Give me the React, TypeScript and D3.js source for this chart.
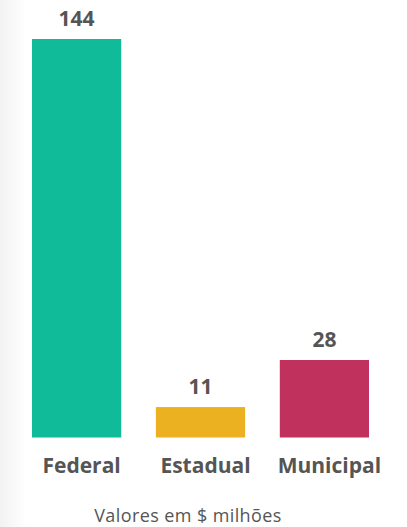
import { useEffect, useRef } from "react";
import * as d3 from "d3";

const categories = ["Federal", "Estadual", "Municipal"];
const values = [144, 11, 28];
const colors = ["#10bb9a", "#ebb121", "#c1315d"];
const footnote = "Valores em $ milhões";

export default function App() {
  const ref = useRef<SVGSVGElement>(null);

  useEffect(() => {
    if (!ref.current) return;
    const width = 407;
    const height = 527;
    const svg = d3.select(ref.current);
    svg.selectAll("*").remove();

    // faint shadow on the left edge
    const defs = svg.append("defs");
    const grad = defs.append("linearGradient").attr("id", "edge").attr("x1", "0").attr("x2", "1");
    grad.append("stop").attr("offset", "0").attr("stop-color", "#f2f2f2");
    grad.append("stop").attr("offset", "1").attr("stop-color", "#ffffff");
    svg.append("rect").attr("width", width).attr("height", height).attr("fill", "#fff");
    svg.append("rect").attr("width", 26).attr("height", height).attr("fill", "url(#edge)");

    const x = d3.scaleBand()
      .domain(categories)
      .range([32, 369])
      .paddingInner(0.28)
      .paddingOuter(0);

    const y = d3.scaleLinear()
      .domain([0, 144])
      .range([437.5, 39]);

    const data = categories.map((c, i) => ({ c, v: values[i], col: colors[i] }));

    svg.selectAll("rect.bar")
      .data(data)
      .enter()
      .append("rect")
      .attr("class", "bar")
      .attr("x", d => x(d.c) || 0)
      .attr("y", d => y(d.v))
      .attr("width", x.bandwidth())
      .attr("height", d => y(0) - y(d.v))
      .attr("fill", d => d.col);

    svg.selectAll("text.val")
      .data(data)
      .enter()
      .append("text")
      .attr("class", "val")
      .attr("x", d => (x(d.c) || 0) + x.bandwidth() / 2)
      .attr("y", d => y(d.v) - 13)
      .attr("text-anchor", "middle")
      .attr("font-family", "'Open Sans', sans-serif")
      .attr("font-weight", 700)
      .attr("font-size", "21px")
      .attr("fill", "#555")
      .text(d => d.v);

    svg.selectAll("text.cat")
      .data(data)
      .enter()
      .append("text")
      .attr("class", "cat")
      .attr("x", d => (x(d.c) || 0) + x.bandwidth() / 2 + 5)
      .attr("y", 473)
      .attr("text-anchor", "middle")
      .attr("font-family", "'Open Sans', sans-serif")
      .attr("font-weight", 700)
      .attr("font-size", "21px")
      .attr("fill", "#555")
      .text(d => d.c);

    svg.append("text")
      .attr("x", 188)
      .attr("y", 522)
      .attr("text-anchor", "middle")
      .attr("font-family", "'Open Sans', sans-serif")
      .attr("font-size", "18px")
      .attr("letter-spacing", "0.4px")
      .attr("fill", "#555")
      .text(footnote);
  }, []);

  return (
    <svg
      ref={ref}
      width={407}
      height={527}
      style={{ position: "absolute", left: 0, top: 0, display: "block" }}
    />
  );
}
